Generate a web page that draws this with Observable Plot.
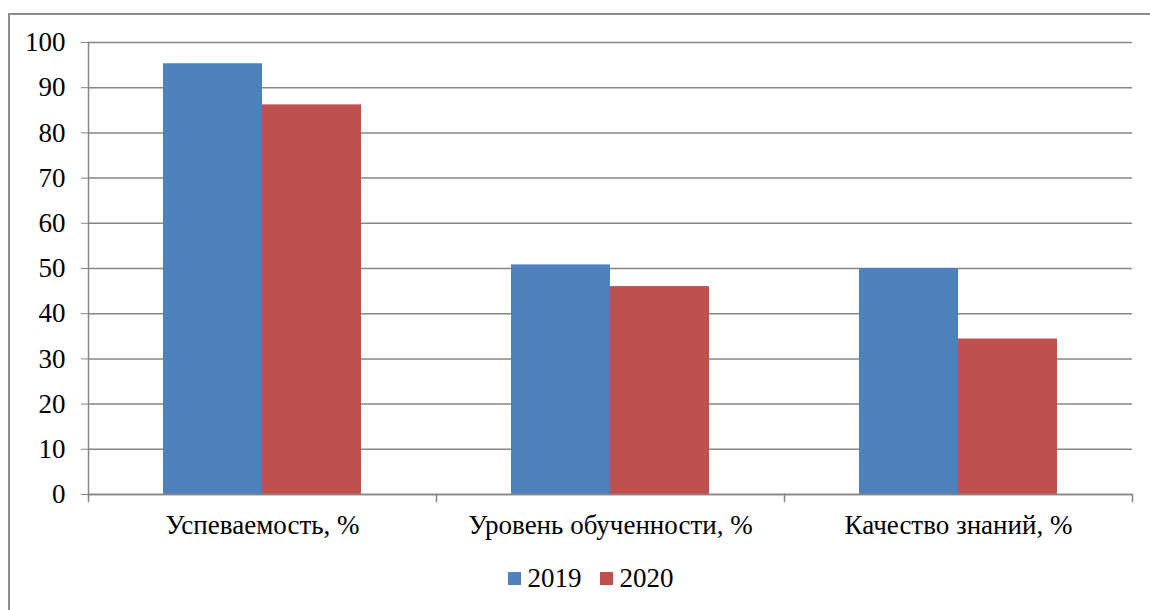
<!DOCTYPE html>
<html>
<head>
<meta charset="utf-8">
<script src="https://cdn.jsdelivr.net/npm/d3@7"></script>
<script src="https://cdn.jsdelivr.net/npm/@observablehq/plot@0.6"></script>
</head>
<body style="margin:0">
<div style="position:absolute; left:8px; top:13px; width:1200px; height:700px; border:2px solid #8c8c8c; box-sizing:border-box"></div>
<div id="c" style="position:absolute; left:0; top:0"></div>
<div id="legend" style="position:absolute; left:0; top:563px; width:1181px; display:flex; justify-content:center; gap:18px; font-family:'Liberation Serif'; font-size:27px; color:#000"></div>
<script>
const categories = ["Успеваемость, %", "Уровень обученности, %", "Качество знаний, %"];
const years = ["2019", "2020"];
const values2019 = [95.3, 50.8, 50.0];
const values2020 = [86.2, 46.0, 34.4];
const yTicks = [0, 10, 20, 30, 40, 50, 60, 70, 80, 90, 100];
const colors = ["#4F81BD", "#C0504D"];

const data = [];
categories.forEach((c, i) => {
  data.push({cat: c, year: years[0], value: values2019[i]});
  data.push({cat: c, year: years[1], value: values2020[i]});
});

const gray = "#868686";
const chart = Plot.plot({
  width: 1150,
  height: 540,
  marginLeft: 88,
  marginRight: 18,
  marginTop: 42,
  marginBottom: 46,
  style: {fontFamily: "Liberation Serif", fontSize: "27px", background: "transparent"},
  fx: {domain: categories, padding: 0, label: null},
  x: {domain: years, axis: null, paddingInner: 0, paddingOuter: 0.754},
  y: {domain: [0, 100], label: null},
  color: {domain: years, range: colors},
  marks: [
    Plot.gridY(yTicks, {stroke: gray, strokeOpacity: 1, strokeWidth: 1.5}),
    Plot.barY(data, {fx: "cat", x: "year", y: "value", fill: "year"}),
    Plot.ruleY([0], {stroke: gray, strokeWidth: 1.5}),
    Plot.frame({anchor: "left", facetAnchor: "left", stroke: gray, strokeWidth: 1.5}),
    Plot.frame({anchor: "left", stroke: gray, strokeWidth: 1.5, insetTop: 452, insetBottom: -7}),
    Plot.frame({anchor: "right", facetAnchor: "right", stroke: gray, strokeWidth: 1.5, insetTop: 452, insetBottom: -7}),
    Plot.axisY(yTicks, {tickSize: 7, tickPadding: 16, stroke: gray, fill: "#000", label: null, fontSize: 27}),
    Plot.axisFx({anchor: "bottom", tickSize: 0, tickPadding: 20, label: null, fill: "#000", fontSize: 27})
  ]
});
document.getElementById("c").appendChild(chart);

const legend = document.getElementById("legend");
years.forEach((y, i) => {
  const it = document.createElement("div");
  it.style.display = "flex";
  it.style.alignItems = "center";
  it.style.gap = "7px";
  const sw = document.createElement("span");
  sw.style.width = "13px";
  sw.style.height = "13px";
  sw.style.display = "inline-block";
  sw.style.background = colors[i];
  const t = document.createElement("span");
  t.textContent = y;
  it.appendChild(sw);
  it.appendChild(t);
  legend.appendChild(it);
});
</script>
</body>
</html>
